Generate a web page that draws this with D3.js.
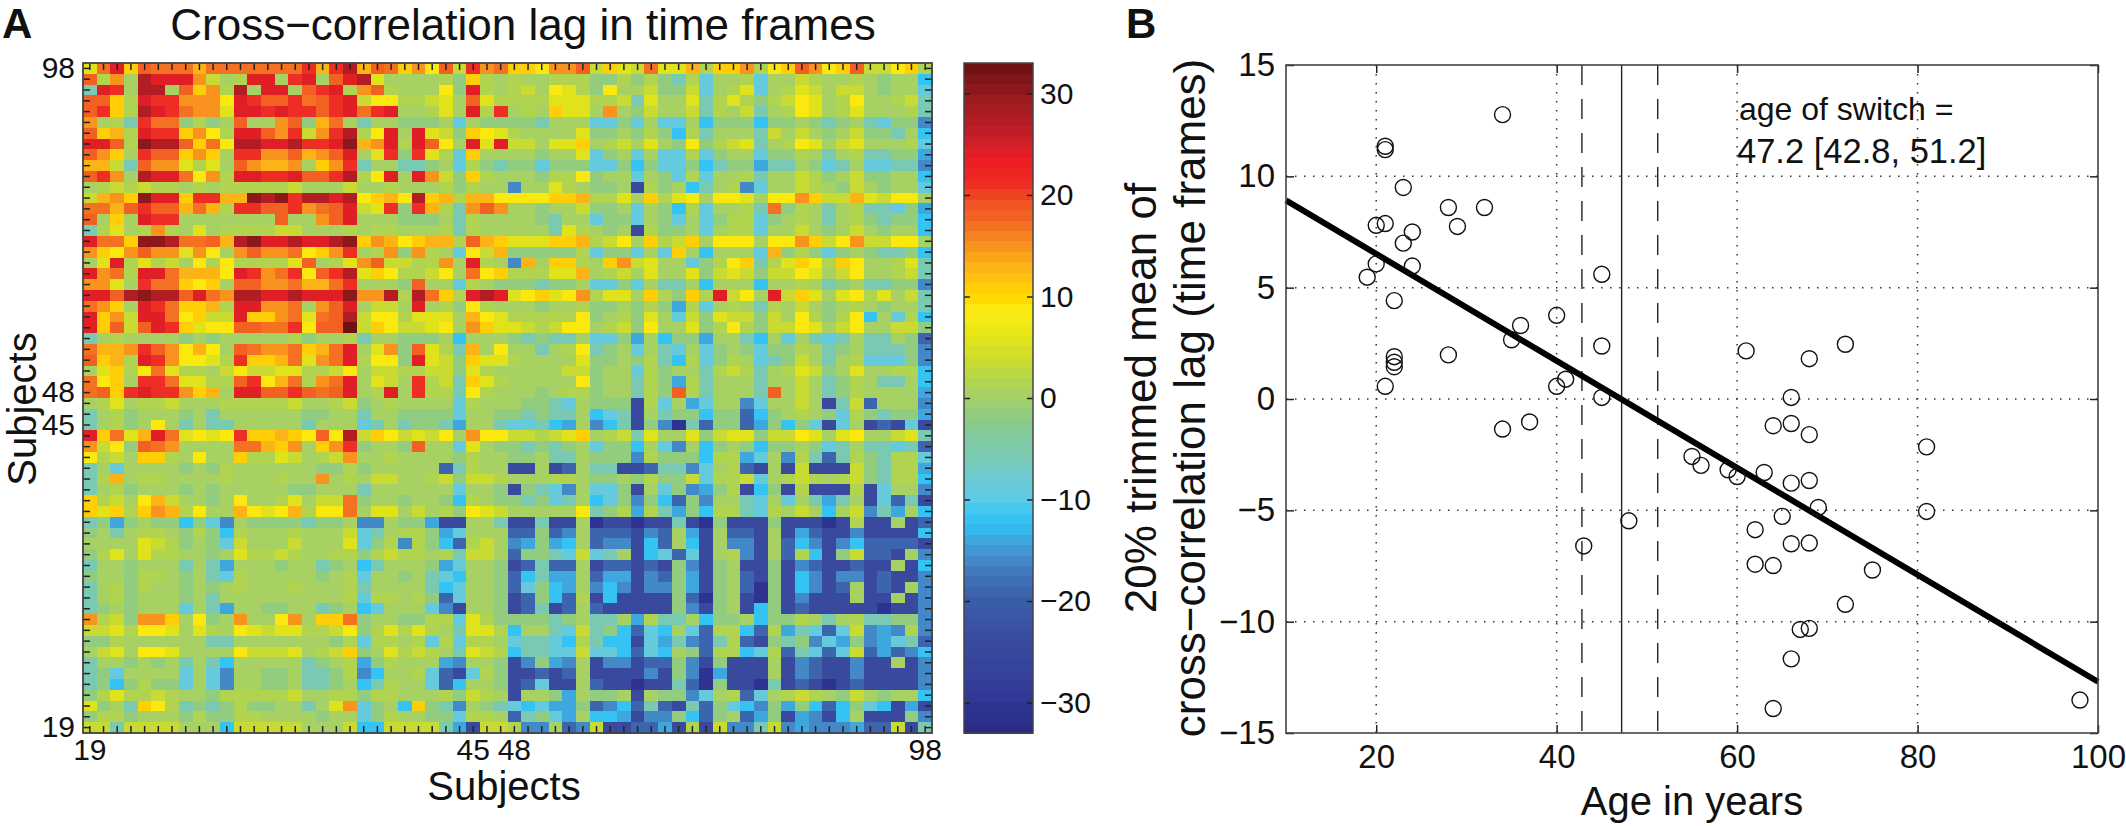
<!DOCTYPE html>
<html><head><meta charset="utf-8">
<style>
html,body{margin:0;padding:0;background:#fff}
svg{display:block}
text{font-family:"Liberation Sans",Arial,sans-serif;fill:#111}
</style>
<script src="https://cdn.jsdelivr.net/npm/d3@7"></script>
</head><body><svg id="c" width="2126" height="826"></svg>
<script>
// Heatmap values, coded by colour level
const levelCodes=["N","B","M","L","K","C","c","T","t","g","h","y","Y","Z","O","o","A","a","R","r","E","D","X","W"];
const levelValues=[-30,-24,-19,-16,-14,-12,-8.5,-5.5,-2,0.5,2,4,6,8.5,10.5,13,15,16.5,18.5,21,24,27,30,33];
const colsLeft=[
"Y a E O R a a a o a a a a a a a r o r D o",
"R h A g D E E E A y g h E E g r E g R E D",
"T E r g D D g R O A h D g E E g R r E h A",
"R R O h E r r A A A Z E r R R r a R r E y",
"R r O h D E r a A A Y E E r E r r R r E a",
"A g h T r a a t h t g R g g A R t o a g T",
"R O o h E r r O A Z h E E R A r y A r D h",
"E E R h X D D R O a Z D D E E D r r E X o",
"R A O g r R R O A O g r r A A R o A R E g",
"o o y T R A A Y h Y g R A o o A g O A r T",
"R r A g D E E a Z A h E E r r E R R r D h",
"g h y h y h h g h g h h h h h y g g g y g",
"y o A O X E E O r r o o X D X r D D E D Z",
"a a o R r R R o a o h r r R R r A a R E y",
"R g O g E r r g g g g g g g R g g A R E g",
"T h Y g h A h g Y g h h h h y y g g g h g",
"E a a O X X D a a R o D X E E D E E D X O",
"A O Z A R A A Y A Z g A R A A a Z O A r g",
"g Y E h Y h y g Z h Z h h h h Y R g h Y A",
"E A a h E E a o o o Z E r A a r Z R r D Y",
"A A Y g r a a O Z O g R R A A a o o a r g",
"E E R D X D D R E a A D D E E D E E E X A",
"a A O g E r a O O o h E E A A a g A R E g",
"E O A y E E a Z O y y E O O A a Y a R D y",
"E O R y R E r O Y Z Z R R a a r Z R R W y",
"T g h g g g g t g t g g g g g h t g g h T",
"a o o A r R A Z o Z g R a A A a O o a E g",
"R O o h E r A Z Z Y h r O O o a Y A a E h",
"g Y O h Z a Y h h g y Z y y Y Y h h y Z g",
"a Z O g r r a Y Y h h R r Z o a h A a E g",
"a R O r E r r A O o g E E R R r R a R E g",
"g h Y g h h y g g g h h h h h y g g h y t",
"T g h t g g g t g T g g g g g g t t g g T",
"T g h t g Z g T g T T g g g g g T g g g c",
"E O a Y o E a Y Z Y Z r O O o O Z R Z D y",
"A y Z t R a A g g g g a a o O A g O A r t",
"Z h y g O O h g Z g g O h h Y y g h y A g",
"T g c g g g g t g t h g g g g g g t t h t",
"T h o g h h g g g g h g g g h g g A g h g",
"T g h t g g g t g t g g g g g t t g g g T",
"O h y g Z o y g g t g Z g g h Y g y y a t",
"O Y O h O A o h Z g g o Z Y Z o h Z Z a g",
"T t K t g t t C t c L g t t t t T t t g L",
"t g T g h h g t h t C h g g g h g g g y c",
"g g g g Y y h t g t c y g g g y g g g Y c",
"t h Y g Y h h g g t g Y h h y h g g h h t",
"T g g t g g g T g T K g g g t g g T t g C",
"t g g t h h g t g T c h g g g g g t g h c",
"T g h t h g g t g t g h g g g h g g g h T",
"T g h t g g g t g T g g g g g g g g g h c",
"T t g t g g g c g T K g g t t g g T t g C",
"A h y t A A O g Z t g A g g Z A g O O a t",
"y y Y h Z Z Y g Y h g Z Y y Y Y h h y Z t",
"t t h g g g g g g T T g g g g g g g t h c",
"g y Y g Z Z Y g g g g Z y y y Y g h y O t",
"T g g t g t g T g T C g g g g g T t g h K",
"T t c g g g g c g c L g g t t g T T t h L",
"T t C t h t t c g c L g g t t g T T t g C",
"t h Y h h y h g g t h h h h h y g g h h t",
"Y t g T O Z h T t T t h t t g g T g Y A c",
"t h h t g g g t h t t h h g g g g t g g c",
"y y T y y y y g g g C y y y y y g g g y C"];
const colsMiddle=[
"R a O A Z R y r A a O O Z A A R y O Y y a Y Y o",
"Y g g g g h t O h g h g g h h h t t h t h t T h",
"R h g g g Z t E h g h y g Z Y h t Z g g y t t y",
"Z Z h h y Y g R Y h h h h Y Y Y h h y T Y g g Y",
"r E g g h Y g E h r g h g O Y Y g A g t y g g y",
"g g t t t g c g t t t t T g g g c c t c g c c g",
"Z E g E Y y t O Z Y h g g g g Y t t g t h t C h",
"A E h E R Z g E Y E y y g Y Y O g h y g Y g t Z",
"Y r t r Y h c O g g g g t g g Y c t g c g c c h",
"g g T T t g c h t T t t c t t t c c t C t c c t",
"Z E g E A y t O h g g g t h h Z t g g c g t c h",
"g h g g g h t h g g L g g Y h g t t g B h t g C",
"O o Z D O o h o o Z Z Z Z O O o h h Y g O h Y Z",
"Y r t r o h T A R A g g t g g y t t g c g t C h",
"g g t t t g T h g g g g t T g g c t t c g t c g",
"h h g g g h T h g g g g g T Y h g t g B h t t g",
"A o Z O o o h R o O Y Y Y O O o h y Z g O h y O",
"h A t A h g c Z y o t t t t t h c t t c g c O g",
"R y y h h A g E h g L o g O O h g O A y Y g g c",
"O Z h h y Z g a Z O h h h Y Y o g h y g Y g g Y",
"g g t R g g c h g t t t T t t g c c t c g T T g",
"A D h D a O h E D E Y Z O Y Z A h Y Y g O h t O",
"y y g E g h t Z h g g g t g g h t t g t h t K h",
"Z Z h Y Y Y g o Z Y h h h h h Z t g h t Y g c y",
"O Z y y Y Z g A O Y Y y h y Z Z g h y t Z g g Y",
"g g t t t g C g g g t T t T T g c c t K g C t t",
"Y A t R Y h T o g Z g g T g h Z T t g c g T c g",
"Z Z t E Y y t O Y Y h g g g g Y t t g t h T C h",
"y y h h y y t Y h g g g g g y y t g g c h t g g",
"Y y g r h y T O Y h g g g g g Z t g g T h t K h",
"h E g r h h T Z h g g g t g h h t g g T h t R h",
"g h g g g g c h g g g t t T c g t t t B h c g K",
"g g t t t t c g g t t T t T T g C c T B g T t t",
"T g T t t T K g g T c c T C K g L C T B t L N T",
"O Z y Y y Z g A Z Z y y h y Y O g h y T Y g g Y",
"g g t R g g c Y g t t T t T t g c t t C g c L g",
"g h g g g g t h g g t t g T T g t t t L h t t t",
"g g g g g M T h g g B B g B M g T T B B M T T L",
"y y g g h y t y y h g g g h h g t t g t h t t y",
"g g g g g g c g g t B t T c L g c c t B g c t L",
"g g t g g t C h g t t T t c T g C c t L t C M t",
"Y Y g y g h t Z Y y g g g g g Z T t h K h T K t",
"L g t t K B B g g T B B T B B g N B B N B B T B",
"T g h h t K c g g g M M t M L g M M M B L M g K",
"t h L h t C M h y g L K t K C g M L L B C M g C",
"h y h h g h T y y g M t t T c y c T g B C c M c",
"T g g g t K c g g t B M T M M g B M M B M B t L",
"g g t g T c C g g t M C T K K g M K K B L M t K",
"g g g g T C c g g t M c t C K g L C L B L L t K",
"h h g h t M c g g t B M t C M h B C B B B B t M",
"c g g g c L B g g t B M T B M g M B B B B B t L",
"g g t t h h c Y h t t t t T t g T T g K h T T g",
"h Y h Y h g T Y Y h C g g T c y T t C M c C g c",
"h h g h c h c h h g c T T c C h T C C B c K T L",
"g Y h y h g T Y y h C T T c c y c c C M c C g t",
"t h g g g K L g g t B L t K L g B L L B M M t L",
"C g g h c M B c h t B B M B M g B B B B L B t L",
"T h g g c M C g g t B M c B B g M B B N B B T M",
"h h g g g h t y h g B g g t K g t t g B g t t L",
"t g C O t T L g t T c C c K K t M L C M T M B T",
"t h g g t t c h h g M T t c K g C C K B L L t C",
"C y y y y T K B y y h L L g M L y B B M M K B h C"];
const colsRight=[
"h O O A h Z O R A Z O R y y Z O h",
"c g g h c g g y h g g h g t g g C",
"c g h Y c g h Y y g y y g t g g c",
"T h Y h t h y Z Y g h Z g g h y T",
"T h g y T g h Z Y g h Y g g g h T",
"C t t t C t t g t T t g T c t t L",
"T g g g T y g y g t g y t t T g C",
"t h y Y T g h Z Y g y Y g g g h c",
"c t g g c t t h g T g h T T t t K",
"C T t t K T T g t c T g c c T T L",
"c g g h T g g y h t g y t t g g C",
"T g h L c g g y h g t y g t g g c",
"g Z Z Y g Z Z A O y y o Y y Z Z g",
"c g g h T a t h g T g h T T c t K",
"c t h h c t g h g T g h t T t t C",
"c g h h c g g y g t g y g t g g C",
"g Z Z Z g Z Z A O y Z A y y Z Z g",
"C g g g c o t h t c t g t T T t C",
"t h Z O T h Y O Z h O Z g g h Y T",
"t y Y y t y y Z Y g y Z g g h y T",
"C g g g C g g h g T t g T T t t L",
"h E y Z g E y O Y g Y Z h Y g y T",
"c g h g T h g y g t g h g t g g T",
"t Y y y t y g Z h t h Z C g c h C",
"t h Z h t y y Z Y g y Z g g y y t",
"K g g T C g c g T c T g T T g t M",
"c t g t c t t h g T t g T T T t L",
"c t h g c T t y g T g h c c c t L",
"T h y h T g h Y y t g Y g g h h C",
"T g g g T g g y g T t h g T T g C",
"T g g g T R g y g T t h g g g g K",
"c g g L c g g y g B T y M g g g L",
"C t t M C t g h g t c h t T t t K",
"M t t M K t C t c B c g B M B c B",
"t y Y Y t y y Z Y g Y Z g g y Y T",
"C t g t C t t g t c T g T T c T M",
"C h h K c g L h T M T h t T h h c",
"c g h M B g B y B B B y t T h h K",
"c h h y c g h y h g h y t T h h C",
"K t h B C t B h B B B h B c g g L",
"L g g T c g c g T K T g B c M T B",
"C h h T c h g y g C g y L T K g C",
"N t B B B t B B B N B h B B g B M",
"B g M M B g B K M B B L B B B B C",
"B g L L B g M C L B L C M M M M B",
"B g h L B g M h C B t y M M B g L",
"B t g B B t B L M B B M B B g B C",
"B t g M B t B C L B L L B M B B L",
"B t g M N t B C L B M g B M B g L",
"N t g B N t B L B B B g B B g B L",
"B t g B C t B M B B B B B N B B L",
"C t t g C t t h g T g h T T t t L",
"M h h C M h K T c M c y L K L h L",
"M T h M B t T t L c K t L K c T M",
"M h h C c h M T c M c y M K M L C",
"B t B B B g B L M B B L B B g B L",
"N K B B B g B L M B B L B B B B L",
"N t B B N T B M B N B M B B B B L",
"c g h M c g h y h g t y g t g g C",
"M t c C L t K t C M C t c C B K B",
"M t g M K t B K L B C g B B B t L",
"B y L L T y L K L L L K M M y B T"];
const subjectCount=62;
const tickIndex=[0,28,31,61];
const tickLabel=["19","45","48","98"];

// Colour bar stops
const stopValues=[-33,-31,-28,-24,-20,-18,-16,-14,-12.5,-11.5,-10,-8,-6,-4,-2,0,2,4,6,8.5,10,12,14,16,18,20,21,24,25,27,30,33];
const stopColors=["#2a2c88","#2e3392","#35409a","#3a4c9f","#3a5fa9","#3f72b6","#448cca","#3ea9e0","#2fc2f5","#3bc5f0","#5ccbe8","#6dcad0","#78c9b5","#7fc9a0","#8ecb84","#a3d06c","#b5d548","#cddc2e","#e3e31a","#f8ed14","#ffd900","#fec20e","#faa61a","#f7861f","#f26522","#f04e23","#ee3124","#ed1c24","#d71f27","#bb1e26","#991b1e","#6f1214"];
const colorBarTicks=[-30,-20,-10,0,10,20,30];

// Scatter
const ages=[34,21,21,23,28,32,20,21,29,24,23,20,24,19,45,22,40,36,35,45,61,72,68,28,22,22,22,21,40,41,45,66,34,37,64,66,68,81,55,56,59,60,63,66,68,69,65,81,48,62,43,66,68,62,64,75,72,67,68,66,64,98];
const lags=[12.77,11.35,11.2,9.5,8.6,8.6,7.8,7.88,7.75,7.5,7.0,6.07,5.97,5.47,5.6,4.42,3.76,3.3,2.66,2.38,2.16,2.46,1.81,1.98,1.9,1.65,1.45,0.57,0.57,0.89,0.07,0.07,-1.35,-1.03,-1.2,-1.1,-1.6,-2.15,-2.58,-2.98,-3.18,-3.48,-3.3,-3.78,-3.66,-4.87,-5.27,-5.05,-5.47,-5.87,-6.6,-6.5,-6.47,-7.42,-7.48,-7.68,-9.22,-10.35,-10.3,-11.67,-13.9,-13.52];
const fitAges=[10,100];
const fitLags=[8.92,-12.7];
const switchAge=47.2, switchLow=42.8, switchHigh=51.2;
const ageTicks=[20,40,60,80,100];
const lagTicks=[-15,-10,-5,0,5,10,15];

const svg=d3.select("#c");
const axisColor="#444";
const H={l:83,r:932,t:63,b:733};
const CB={l:964,r:1033};
const S={l:1286,r:2098,t:65,b:733};

const toks=s=>s.trim().split(/\s+/);
const valueOf=c=>levelValues[levelCodes.indexOf(c)];
const matrix=d3.range(subjectCount).map(r=>{
  const row=[...toks(colsLeft[r]).slice(0,21),...toks(colsMiddle[r]).slice(0,24),...toks(colsRight[r]).slice(0,17)];
  return row.map(valueOf);
});
const smooth=d3.scaleLinear().domain(stopValues).range(stopColors).interpolate(d3.interpolateRgb).clamp(true);
const bands=d3.quantize(t=>smooth(-33+66*t),64);
const color=d3.scaleQuantize().domain([-33,33]).range(bands);

// Panel A
const xBand=d3.scaleBand().domain(d3.range(subjectCount)).range([H.l,H.r]);
const yBand=d3.scaleBand().domain(d3.range(subjectCount)).range([H.t,H.b]);
const gCells=svg.append("g").attr("shape-rendering","crispEdges");
matrix.forEach((row,r)=>{
  gCells.selectAll(null).data(row).join("rect")
    .attr("x",(d,c)=>xBand(c)).attr("y",yBand(r))
    .attr("width",xBand.bandwidth()+0.5).attr("height",yBand.bandwidth()+0.5)
    .attr("fill",d=>color(d));
});
const lab=i=>{const k=tickIndex.indexOf(i);return k<0?"":tickLabel[k];};
const labY=i=>lab(subjectCount-1-i);
function style(g,fs){
  g.select(".domain").remove();
  g.selectAll("line").attr("stroke","#222").attr("stroke-width",1.5);
  g.selectAll("text").attr("font-size",fs).attr("fill","#111").attr("font-family",'"Liberation Sans"');
}
const inT=7;
svg.append("g").attr("transform",`translate(0,${H.b})`).call(d3.axisBottom(xBand).tickSizeInner(-inT).tickSizeOuter(0).tickPadding(6).tickFormat(lab)).call(style,30);
svg.append("g").attr("transform",`translate(0,${H.t})`).call(d3.axisTop(xBand).tickSizeInner(-inT).tickSizeOuter(0).tickFormat("")).call(style,30);
svg.append("g").attr("transform",`translate(${H.l},0)`).call(d3.axisLeft(yBand).tickSizeInner(-inT).tickSizeOuter(0).tickPadding(8).tickFormat(labY)).call(style,30);
svg.append("g").attr("transform",`translate(${H.r},0)`).call(d3.axisRight(yBand).tickSizeInner(-inT).tickSizeOuter(0).tickFormat("")).call(style,30);
svg.append("rect").attr("x",H.l).attr("y",H.t).attr("width",H.r-H.l).attr("height",H.b-H.t).attr("fill","none").attr("stroke",axisColor).attr("stroke-width",1.8);

// Colour bar
const cbY=d3.scaleLinear().domain([-33,33]).range([H.b,H.t]);
svg.append("g").attr("shape-rendering","crispEdges").selectAll("rect").data(bands).join("rect")
  .attr("x",CB.l).attr("width",CB.r-CB.l)
  .attr("y",(d,i)=>cbY(-33+66*(i+1)/64)).attr("height",(H.b-H.t)/64+0.5).attr("fill",d=>d);
const fmtNeg=d=>d<0?"\u2212"+(-d):""+d;
svg.append("g").attr("transform",`translate(${CB.r},0)`).call(d3.axisRight(cbY).tickValues(colorBarTicks).tickSizeInner(-6).tickSizeOuter(0).tickPadding(7).tickFormat(fmtNeg)).call(style,30);
svg.append("g").attr("transform",`translate(${CB.l},0)`).call(d3.axisLeft(cbY).tickValues(colorBarTicks).tickSizeInner(-6).tickSizeOuter(0).tickFormat("")).call(style,30);
svg.append("rect").attr("x",CB.l).attr("y",H.t).attr("width",CB.r-CB.l).attr("height",H.b-H.t).attr("fill","none").attr("stroke",axisColor).attr("stroke-width",1.5);

// Panel A texts
svg.append("text").attr("x",523).attr("y",40).attr("text-anchor","middle").attr("font-size",44).text("Cross\u2212correlation lag in time frames");
svg.append("text").attr("x",504).attr("y",800).attr("text-anchor","middle").attr("font-size",40).text("Subjects");
svg.append("text").attr("transform","translate(36,409) rotate(-90)").attr("text-anchor","middle").attr("font-size",40).text("Subjects");
svg.append("text").attr("x",2).attr("y",38).attr("font-size",42).attr("font-weight","bold").text("A");
svg.append("text").attr("x",1126).attr("y",38).attr("font-size",42).attr("font-weight","bold").text("B");

// Panel B
const x=d3.scaleLinear().domain([10,100]).range([S.l,S.r]);
const y=d3.scaleLinear().domain([-15,15]).range([S.b,S.t]);
const gGrid=svg.append("g").attr("stroke","#333").attr("stroke-width",1.5).attr("stroke-dasharray","1.5 7.5");
gGrid.selectAll(".v").data(ageTicks.slice(0,-1)).join("line").attr("x1",d=>x(d)).attr("x2",d=>x(d)).attr("y1",S.t).attr("y2",S.b);
gGrid.selectAll(".h").data(lagTicks.slice(1,-1)).join("line").attr("y1",d=>y(d)).attr("y2",d=>y(d)).attr("x1",S.l).attr("x2",S.r);
svg.append("line").attr("x1",x(switchAge)).attr("x2",x(switchAge)).attr("y1",S.t).attr("y2",S.b).attr("stroke","#222").attr("stroke-width",1.4);
svg.selectAll(".ci").data([switchLow,switchHigh]).join("line").attr("x1",d=>x(d)).attr("x2",d=>x(d)).attr("y1",S.t).attr("y2",S.b).attr("stroke","#222").attr("stroke-width",1.4).attr("stroke-dasharray","20 14");
svg.append("path").datum(fitAges.map((a,i)=>[a,fitLags[i]])).attr("d",d3.line().x(d=>x(d[0])).y(d=>y(d[1]))).attr("fill","none").attr("stroke","#000").attr("stroke-width",6);
svg.append("g").selectAll("circle").data(ages).join("circle").attr("cx",d=>x(d)).attr("cy",(d,i)=>y(lags[i])).attr("r",8).attr("fill","none").attr("stroke","#111").attr("stroke-width",1.4);
svg.append("g").attr("transform",`translate(0,${S.b})`).call(d3.axisBottom(x).tickValues(ageTicks).tickSizeInner(-8).tickSizeOuter(0).tickPadding(12)).call(style,33);
svg.append("g").attr("transform",`translate(0,${S.t})`).call(d3.axisTop(x).tickValues(ageTicks).tickSizeInner(-8).tickSizeOuter(0).tickFormat("")).call(style,33);
svg.append("g").attr("transform",`translate(${S.l},0)`).call(d3.axisLeft(y).tickValues(lagTicks).tickSizeInner(-8).tickSizeOuter(0).tickPadding(11).tickFormat(fmtNeg)).call(style,33);
svg.append("g").attr("transform",`translate(${S.r},0)`).call(d3.axisRight(y).tickValues(lagTicks).tickSizeInner(-8).tickSizeOuter(0).tickFormat("")).call(style,33);
svg.append("rect").attr("x",S.l).attr("y",S.t).attr("width",S.r-S.l).attr("height",S.b-S.t).attr("fill","none").attr("stroke",axisColor).attr("stroke-width",1.6);
svg.append("text").attr("x",1739).attr("y",120).attr("font-size",32).text("age of switch =");
svg.append("text").attr("x",1737).attr("y",163).attr("font-size",34.5).text("47.2 [42.8, 51.2]");
svg.append("text").attr("x",1692).attr("y",815).attr("text-anchor","middle").attr("font-size",40).text("Age in years");
svg.append("text").attr("transform","translate(1156,398) rotate(-90)").attr("text-anchor","middle").attr("font-size",44).text("20% trimmed mean of");
svg.append("text").attr("transform","translate(1205,398) rotate(-90)").attr("text-anchor","middle").attr("font-size",44).text("cross\u2212correlation lag (time frames)");
</script></body></html>
